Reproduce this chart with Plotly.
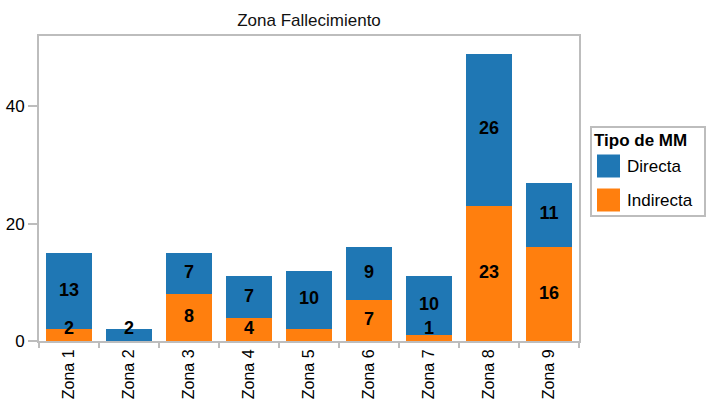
import plotly.graph_objects as go

zonas = ["Zona 1", "Zona 2", "Zona 3", "Zona 4", "Zona 5", "Zona 6", "Zona 7", "Zona 8", "Zona 9"]
indirecta = [2, 0, 8, 4, 2, 7, 1, 23, 16]
directa = [13, 2, 7, 7, 10, 9, 10, 26, 11]
# labels shown on the chart (Zona 5 indirect label is not displayed in the source)
indirecta_labels = ["2", "", "8", "4", "", "7", "1", "23", "16"]
directa_labels = ["13", "2", "7", "7", "10", "9", "10", "26", "11"]

BLUE = "#1f77b4"
ORANGE = "#ff7f0e"
FONT = "Liberation Sans, Arial, sans-serif"
LINE = "#bdbdbd"

fig = go.Figure()
fig.add_trace(go.Bar(x=zonas, y=indirecta, name="Indirecta", marker=dict(color=ORANGE, line=dict(width=0)),
                     showlegend=False, hoverinfo="skip"))
fig.add_trace(go.Bar(x=zonas, y=directa, name="Directa", marker=dict(color=BLUE, line=dict(width=0)),
                     showlegend=False, hoverinfo="skip"))

# label positions: segment midpoints, kept at least 2 units above the axis
MIN_LABEL = 2
ind_y = [max(v / 2, MIN_LABEL) for v in indirecta]
dir_y = [max(i + d / 2, MIN_LABEL) for i, d in zip(indirecta, directa)]
LBL = dict(family=FONT, size=18, color="black", weight="bold")
fig.add_trace(go.Scatter(x=zonas, y=ind_y, mode="text", text=indirecta_labels, textfont=LBL,
                         showlegend=False, hoverinfo="skip", cliponaxis=False))
fig.add_trace(go.Scatter(x=zonas, y=dir_y, mode="text", text=directa_labels, textfont=LBL,
                         showlegend=False, hoverinfo="skip", cliponaxis=False))

fig.update_layout(
    width=707, height=401,
    margin=dict(l=39, r=128, t=36, b=60, autoexpand=False),
    barmode="stack", bargap=0.24,
    paper_bgcolor="white", plot_bgcolor="white",
    font=dict(family=FONT, size=17, color="black"),
    showlegend=False,
    title=dict(text="Zona Fallecimiento", x=(309 / 707), xref="container", xanchor="center",
               y=0.935, yanchor="bottom", yref="container",
               font=dict(family=FONT, size=17, color="#111")),
    xaxis=dict(showline=True, linecolor=LINE, linewidth=2, mirror=True, automargin=False,
               ticks="outside", tickson="boundaries", ticklen=5, tickcolor=LINE, tickwidth=2,
               tickangle=-90, showgrid=False, zeroline=False,
               tickfont=dict(family=FONT, size=16, color="black")),
    yaxis=dict(range=[0, 52], dtick=20, showline=True, linecolor=LINE, linewidth=2, mirror=True,
               automargin=False,
               ticks="outside", ticklen=9, tickcolor=LINE, tickwidth=2,
               showgrid=False, zeroline=False,
               tickfont=dict(family=FONT, size=17, color="black")),
)

# manual legend (large square swatches)
W = 540.0
H = 305.0
def px_x(px):
    return (px - 39) / W
def px_y(py):
    return (341 - py) / H

fig.add_shape(type="rect", xref="paper", yref="paper", x0=px_x(591), x1=px_x(705), y0=px_y(216), y1=px_y(127),
              line=dict(color=LINE, width=2), fillcolor="white", layer="above")
fig.add_annotation(xref="paper", yref="paper", x=px_x(592), y=px_y(140), text="<b>Tipo de MM</b>",
                   showarrow=False, xanchor="left", yanchor="middle",
                   font=dict(family=FONT, size=17, color="black"))
legend_items = [("Directa", BLUE, 166), ("Indirecta", ORANGE, 200)]
for name, col, cy in legend_items:
    fig.add_shape(type="rect", xref="paper", yref="paper",
                  x0=px_x(597), x1=px_x(620), y0=px_y(cy + 11.5), y1=px_y(cy - 11.5),
                  line=dict(width=0), fillcolor=col, layer="above")
    fig.add_annotation(xref="paper", yref="paper", x=px_x(625), y=px_y(cy), text=name,
                       showarrow=False, xanchor="left", yanchor="middle",
                       font=dict(family=FONT, size=17, color="black"))

fig.write_html("out.html", config={"displayModeBar": False},
               post_script="document.body.style.margin='0';document.body.style.padding='0';")
